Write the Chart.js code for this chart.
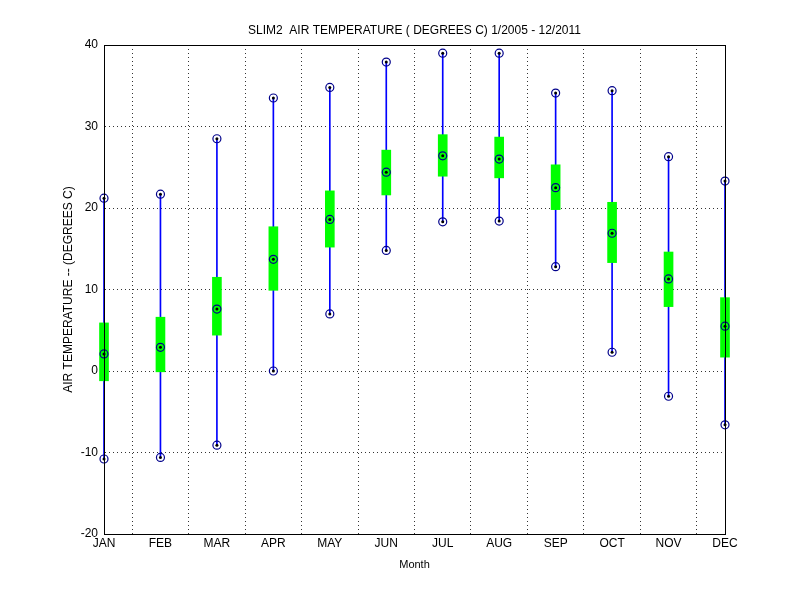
<!DOCTYPE html>
<html><head><meta charset="utf-8">
<script src="https://cdn.jsdelivr.net/npm/chart.js@4"></script>
<style>body{margin:0;background:#fff}#w{width:800px;height:600px}</style>
</head><body><div id="w"><canvas id="c"></canvas></div>
<script>
const months=["JAN","FEB","MAR","APR","MAY","JUN","JUL","AUG","SEP","OCT","NOV","DEC"];
const maxV=[21.2,21.7,28.5,33.5,34.8,37.9,39,39,34.1,34.4,26.3,23.3];
const q75=[5.9,6.6,11.5,17.7,22.1,27.1,29,28.7,25.3,20.7,14.6,9.0];
const meanV=[2.1,2.9,7.6,13.7,18.6,24.4,26.4,26,22.5,16.9,11.3,5.5];
const q25=[-1.2,-0.1,4.4,9.9,15.2,21.6,23.9,23.7,19.8,13.3,7.9,1.7];
const minV=[-10.8,-10.6,-9.1,0,7.0,14.8,18.3,18.4,12.8,2.3,-3.1,-6.6];
const yTicks=[-20,-10,0,10,20,30,40];
const F='"Liberation Sans", Arial, sans-serif';
Chart.defaults.font.family=F;Chart.defaults.font.size=12;Chart.defaults.color='#000';
const xs=months.map((m,i)=>i+1);
const pts=a=>a.map((v,i)=>({x:xs[i],y:v}));
const frame={id:'frame',afterDraw(c){const a=c.chartArea,x=c.ctx;x.save();x.strokeStyle='#000';x.lineWidth=1;x.strokeRect(a.left+0.5,a.top+0.5,a.right-a.left,a.bottom-a.top);
x.fillStyle='#000';x.font='12px '+F;x.textAlign='center';x.textBaseline='alphabetic';x.fillText('SLIM2  AIR TEMPERATURE ( DEGREES C) 1/2005 - 12/2011',(a.left+a.right)/2,34);
x.font='11px '+F;x.fillText('Month',(a.left+a.right)/2,568);
x.font='12px '+F;x.translate(72,(a.top+a.bottom)/2);x.rotate(-Math.PI/2);x.fillText('AIR TEMPERATURE -- (DEGREES C)',0,0);x.restore();}};
const circ={pointStyle:'circle',pointRadius:4,pointBorderColor:'#00008b',pointBackgroundColor:'rgba(0,0,0,0)',pointBorderWidth:1.2,showLine:false,type:'scatter',clip:false};
const dot={pointStyle:'circle',pointRadius:1.5,pointBorderColor:'#000',pointBackgroundColor:'#000',pointBorderWidth:0,showLine:false,type:'scatter',clip:false};
new Chart(document.getElementById('c'),{type:'bar',
data:{datasets:[
{data:xs.map((x,i)=>({x,y:[minV[i],maxV[i]]})),backgroundColor:'#0000ff',barThickness:1,grouped:false,order:3,clip:false},
{data:xs.map((x,i)=>({x,y:[q25[i],q75[i]]})),backgroundColor:'#00ff00',barThickness:9,grouped:false,order:2,clip:false},
Object.assign({data:pts(maxV),order:1},circ),Object.assign({data:pts(minV),order:1},circ),Object.assign({data:pts(meanV),order:1},circ),
Object.assign({data:pts(maxV),order:0},dot),Object.assign({data:pts(minV),order:0},dot),Object.assign({data:pts(meanV),order:0},dot)
]},
options:{responsive:true,maintainAspectRatio:false,animation:false,
layout:{padding:{left:0,right:75,top:45,bottom:0}},
plugins:{legend:{display:false},tooltip:{enabled:false}},
scales:{
x:{type:'linear',min:1,max:12,offset:false,afterBuildTicks:s=>{s.ticks=xs.map(v=>({value:v}));},
ticks:{callback:v=>months[v-1],maxRotation:0,autoSkip:false,padding:2},
grid:{color:'#000',lineWidth:0.8,tickLength:0},border:{dash:[1,3]},
afterFit:s=>{s.height=66;}},
y:{min:-20,max:40,afterBuildTicks:s=>{s.ticks=yTicks.map(v=>({value:v}));},
ticks:{padding:6},grid:{color:'#000',lineWidth:0.8,tickLength:0},border:{dash:[1,3]},
afterFit:s=>{s.width=104;}}
}},plugins:[frame]});
</script></body></html>
